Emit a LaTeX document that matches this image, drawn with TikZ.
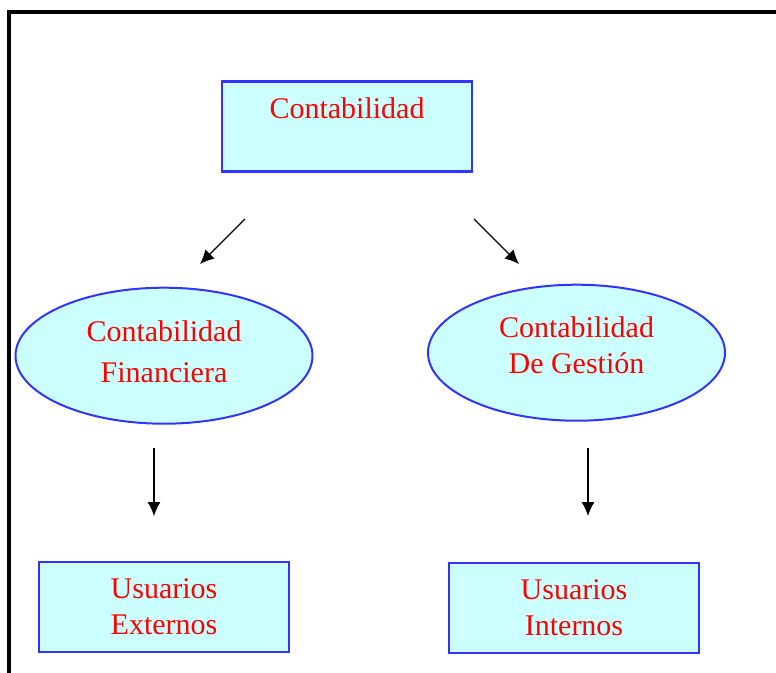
\documentclass[tikz,border=0pt]{standalone}
\usepackage{fontspec}
\setmainfont{Liberation Serif}
\usepackage{tikz}
\usetikzlibrary{arrows.meta,shapes,positioning}
\definecolor{boxfill}{RGB}{204,255,255}
\definecolor{boxline}{RGB}{51,51,255}

\begin{document}
\begin{tikzpicture}[
        x=1pt, y=-1pt,
        block/.style={rectangle, draw=boxline, fill=boxfill, line width=2.4pt,
                     text=red, align=center, minimum width=250pt, minimum height=90pt,
                     font=\fontsize{30}{36}\selectfont},
        oval/.style={ellipse, draw=boxline, fill=boxfill, line width=2pt, inner sep=0pt,
                     text=red, align=center, minimum width=297pt, minimum height=136pt,
                     font=\fontsize{30}{36}\selectfont},
        line/.style={draw, line width=1.2pt, -{Latex[length=14pt,width=13pt]}}
      ]
        \clip (0,0) rectangle (776,672);
        % Frame
        \draw [line width=4pt] (800,12) -- (9,12) -- (9,700);

        % Top block
        \node [block] (contab) at (347,126.5) {Contabilidad\\\mbox{}};

        % Ellipses
        \node [oval, below=114pt of contab, xshift=-183pt] (financ)
              {Contabilidad\\[5pt]Financiera\\[-28pt]\mbox{}};
        \node [oval, below=111pt of contab, xshift=229.5pt] (gestion)
              {Contabilidad\\De Gestión\\[-20pt]\mbox{}};

        % Users
        \node [block, below=136pt of financ] (externos) {Usuarios\\Externos};
        \node [block, below=140pt of gestion, xshift=-2.5pt] (internos) {Usuarios\\Internos};

        % Arrow ends
        \coordinate (finstart) at (245,219);
        \coordinate (finend) at (200,264);
        \coordinate (gesstart) at (474,219);
        \coordinate (gesend) at (519,264);
        \coordinate (extstart) at (154,448);
        \coordinate (extend) at (154,516);
        \coordinate (intstart) at (588,448);
        \coordinate (intend) at (588,516);

        % Lines
        \draw [line] (finstart) -- (finend);
        \draw [line] (gesstart) -- (gesend);
        \draw [line] (extstart) -- (extend);
        \draw [line] (intstart) -- (intend);
      \end{tikzpicture}
\end{document}
